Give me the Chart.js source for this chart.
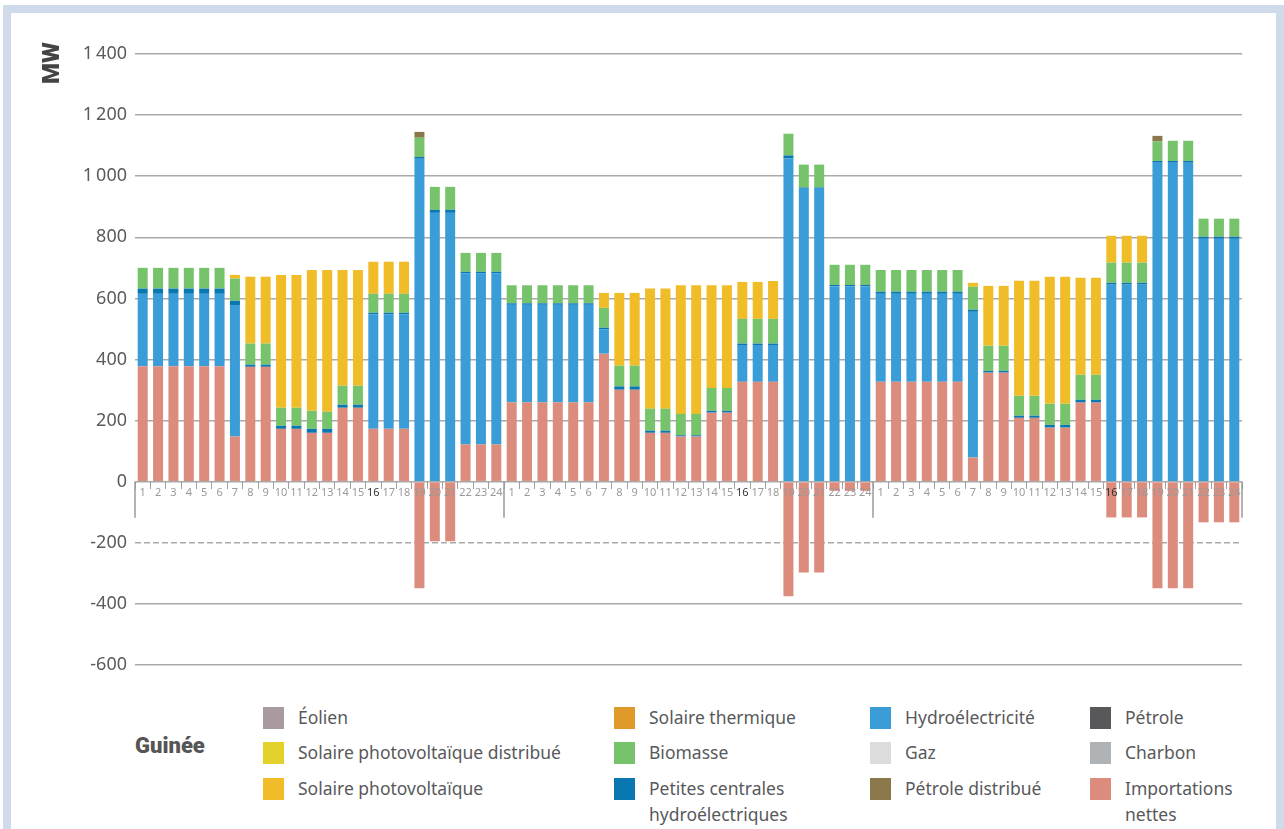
<!DOCTYPE html>
<html>
<head>
<meta charset="utf-8">
<script src="https://cdn.jsdelivr.net/npm/chart.js@4.4.0/dist/chart.umd.min.js"></script>
<style>
  html, body { margin: 0; padding: 0; overflow: hidden; background: #fff; }
  body { width: 1284px; height: 829px; position: relative; font-family: "Noto Sans", sans-serif; }
  #frame { position: absolute; left: 3px; top: 5px; width: 1281px; height: 832px; border: 8px solid #cfdbea; box-sizing: border-box; }
  #chart { position: absolute; left: 0; top: 0; }
  #country { position: absolute; left: 135px; top: 733px; font: 900 22px Roboto, sans-serif; color: #555; }
  .item { position: absolute; }
  .item .sw { position: absolute; left: 0; top: 0; width: 21px; height: 22px; }
  .item .tx { position: absolute; left: 35px; top: -3px; font-size: 17.5px; line-height: 26px; color: #58595b; white-space: pre; }
</style>
</head>
<body>
<div id="frame"></div>
<canvas id="chart" width="1284" height="690"></canvas>
<div id="country">Guinée</div>
<div id="legend"></div>
<script>
// heures 1..24 sur trois journées types
const hours = ["1","2","3","4","5","6","7","8","9","10","11","12","13","14","15","16","17","18","19","20","21","22","23","24"];
const categories = [...hours, ...hours, ...hours];

const importations = [
  378,378,378,378,378,378,148,376,376,173,173,160,160,242,242,173,173,173,-349,-195,-195,122,122,122,
  260,260,260,260,260,260,419,301,301,160,160,148,148,226,226,327,327,327,-375,-297,-297,-30,-30,-30,
  327,327,327,327,327,327,79,357,357,209,209,177,177,259,259,-117,-117,-117,-349,-349,-349,-133,-133,-133
];
const hydro = [
  237,237,237,237,237,237,428,0,0,0,0,0,0,0,0,375,375,375,1057,880,880,560,560,560,
  319,319,319,319,319,319,79,0,0,0,0,0,0,0,0,118,118,118,1058,961,961,640,640,640,
  288,288,288,288,288,288,477,0,0,0,0,0,0,0,0,645,645,645,1044,1044,1044,795,795,795
];
const petitesCentrales = [
  17,17,17,17,17,17,16,7,7,10,10,13,13,10,10,5,5,5,6,10,10,5,5,5,
  5,5,5,5,5,5,6,11,11,7,7,4,4,6,6,7,7,7,10,2,2,4,4,4,
  7,7,7,7,7,7,7,6,6,7,7,9,9,9,9,6,6,6,6,6,6,7,7,7
];
const biomasse = [
  68,68,68,68,68,68,73,69,69,59,59,59,56,62,62,62,62,62,63,75,75,62,62,62,
  59,59,59,59,59,59,65,68,68,72,72,70,70,75,75,81,81,81,71,75,75,66,66,66,
  71,71,71,71,71,71,75,82,82,65,65,69,69,82,82,66,66,66,64,66,66,59,59,59
];
const solairePV = [
  0,0,0,0,0,0,12,219,219,435,435,461,464,379,379,105,105,105,0,0,0,0,0,0,
  0,0,0,0,0,0,49,238,238,393,393,421,421,336,336,121,121,124,0,0,0,0,0,0,
  0,0,0,0,0,0,13,196,196,377,377,416,416,318,318,88,88,88,0,0,0,0,0,0
];
const petroleDistribue = [
  0,0,0,0,0,0,0,0,0,0,0,0,0,0,0,0,0,0,19,0,0,0,0,0,
  0,0,0,0,0,0,0,0,0,0,0,0,0,0,0,0,0,0,0,0,0,0,0,0,
  0,0,0,0,0,0,0,0,0,0,0,0,0,0,0,0,0,0,18,0,0,0,0,0
];

const yTicks = [-600, -400, -200, 0, 200, 400, 600, 800, 1000, 1200, 1400];

// légende (ordre par colonnes)
const legendNames = ["Éolien", "Solaire photovoltaïque distribué", "Solaire photovoltaïque",
  "Solaire thermique", "Biomasse", "Petites centrales\nhydroélectriques",
  "Hydroélectricité", "Gaz", "Pétrole distribué",
  "Pétrole", "Charbon", "Importations\nnettes"];
const legendColors = ["#a89a9e", "#e3d12b", "#f0bc28",
  "#e09a2a", "#77c36b", "#0a78b0",
  "#3a9dd8", "#dcdcdc", "#8a784a",
  "#58585a", "#b0b3b5", "#dc8c7c"];

const legendEl = document.getElementById("legend");
const colX = [263, 614, 870, 1090];
const rowY = [707, 742, 778];
legendNames.forEach((name, i) => {
  const col = Math.floor(i / 3), row = i % 3;
  const d = document.createElement("div");
  d.className = "item";
  d.style.left = colX[col] + "px";
  d.style.top = rowY[row] + "px";
  d.innerHTML = '<div class="sw" style="background:' + legendColors[i] + '"></div><div class="tx"></div>';
  d.querySelector(".tx").textContent = name;
  legendEl.appendChild(d);
});

const groupLines = {
  id: "groupLines",
  afterDraw(chart) {
    const { ctx, chartArea, scales } = chart;
    const y0 = scales.y.getPixelForValue(0);
    const step = (chartArea.right - chartArea.left) / categories.length;
    ctx.save();
    ctx.strokeStyle = "#9a9a9a";
    ctx.lineWidth = 1.5;
    for (let i = 0; i <= categories.length; i += hours.length) {
      const px = chartArea.left + i * step;
      ctx.beginPath();
      ctx.moveTo(px, y0);
      ctx.lineTo(px, y0 + 36);
      ctx.stroke();
    }
    // titre de l'axe
    ctx.translate(53, 63);
    ctx.rotate(-Math.PI / 2);
    ctx.font = "900 24px Roboto";
    ctx.fillStyle = "#444";
    ctx.textAlign = "center";
    ctx.textBaseline = "middle";
    ctx.fillText("MW", 0, 0);
    ctx.restore();
  }
};

const ds = (label, data, color) => ({
  label, data, backgroundColor: color, borderWidth: 0,
  barPercentage: 0.65, categoryPercentage: 1
});

new Chart(document.getElementById("chart").getContext("2d"), {
  type: "bar",
  data: {
    labels: categories,
    datasets: [
      ds("Importations nettes", importations, legendColors[11]),
      ds("Hydroélectricité", hydro, legendColors[6]),
      ds("Petites centrales hydroélectriques", petitesCentrales, legendColors[5]),
      ds("Biomasse", biomasse, legendColors[4]),
      ds("Solaire photovoltaïque", solairePV, legendColors[2]),
      ds("Pétrole distribué", petroleDistribue, legendColors[8])
    ]
  },
  options: {
    responsive: false,
    animation: false,
    layout: { padding: { top: 54, right: 42, bottom: 25, left: 0 } },
    plugins: {
      legend: { display: false },
      tooltip: { enabled: false }
    },
    scales: {
      x: {
        stacked: true,
        position: { y: 0 },
        border: { display: false },
        grid: {
          drawOnChartArea: false,
          drawTicks: true,
          tickLength: 7,
          tickColor: "#a0a0a0",
          tickWidth: 1,
          z: 1
        },
        ticks: {
          z: 1,
          autoSkip: false,
          maxRotation: 0,
          padding: -2,
          font: { family: "Noto Sans", size: 11 },
          color: (c) => (c.tick && c.tick.label === "16" ? "#333" : "#9a9a9a")
        }
      },
      y: {
        stacked: true,
        min: yTicks[0],
        max: yTicks[yTicks.length - 1],
        afterFit: (scale) => { scale.width = 135; },
        afterBuildTicks: (scale) => { scale.ticks = yTicks.map(v => ({ value: v })); },
        border: {
          display: false,
          dash: (c) => (c.tick && c.tick.value === -200 ? [6, 3] : [])
        },
        grid: {
          color: "#a9a9a9",
          lineWidth: 1.5,
          drawTicks: false
        },
        ticks: {
          padding: 8,
          font: { family: "Noto Sans", size: 18 },
          color: "#5b5b5b",
          callback: (v) => {
            const s = String(Math.abs(v));
            const t = s.length > 3 ? s.slice(0, -3) + "\u2009" + s.slice(-3) : s;
            return (v < 0 ? "-" : "") + t;
          }
        }
      }
    }
  },
  plugins: [groupLines]
});
</script>
</body>
</html>
